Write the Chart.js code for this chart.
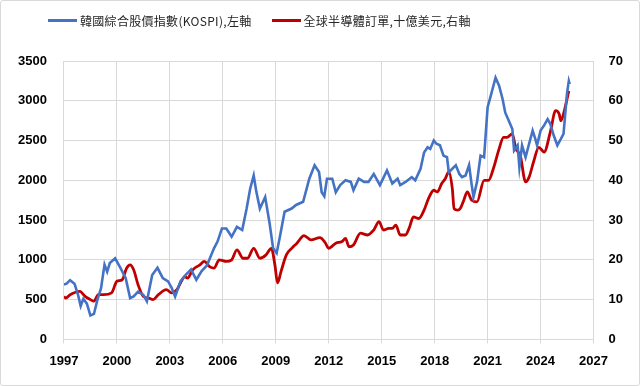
<!DOCTYPE html>
<html>
<head>
<meta charset="utf-8">
<script src="https://cdn.jsdelivr.net/npm/chart.js@4/dist/chart.umd.min.js"></script>
<style>
  html, body { margin: 0; padding: 0; background: #fff; }
  #wrap { position: relative; width: 640px; height: 386px; box-sizing: border-box; border: 1px solid #d9d9d9; border-radius: 3px; overflow: hidden; }
  #c { position: absolute; left: 0; top: 0; }
  #legend { position: absolute; top: 11px; left: 47px; display: flex; align-items: center; font-family: "Noto Sans CJK TC", "Noto Sans", sans-serif; font-size: 12px; letter-spacing: 0.3px; color: #262626; white-space: nowrap; }
  .item { display: flex; align-items: center; margin-right: 20px; }
  .swatch { width: 29px; height: 3px; margin-right: 3px; }
</style>
</head>
<body>
<div id="wrap">
  <canvas id="c" width="640" height="386"></canvas>
  <div id="legend"></div>
</div>
<script>
// KOSPI (left axis)
const kospiDates = [1997.0,1997.15,1997.35,1997.6,1997.8,1997.95,1998.1,1998.3,1998.5,1998.7,1998.9,1999.1,1999.3,1999.45,1999.6,1999.9,
2000.2,2000.5,2000.75,2000.95,2001.2,2001.5,2001.7,2002.0,2002.3,2002.6,2002.9,2003.1,2003.3,2003.6,2003.9,2004.2,2004.5,2004.8,
2005.1,2005.5,2005.7,2005.95,2006.2,2006.5,2006.8,2007.1,2007.35,2007.55,2007.75,2007.9,2008.1,2008.4,2008.65,2008.85,
2009.05,2009.25,2009.5,2009.9,2010.15,2010.55,2010.9,2011.2,2011.45,2011.6,2011.75,2011.9,2012.2,2012.4,2012.65,2012.95,
2013.25,2013.4,2013.7,2014.0,2014.25,2014.55,2014.9,2015.3,2015.6,2015.9,2016.05,2016.35,2016.7,2016.9,2017.2,2017.4,2017.6,
2017.75,2017.95,2018.1,2018.3,2018.5,2018.7,2018.8,2019.0,2019.2,2019.4,2019.55,2019.75,2019.95,2020.1,2020.2,2020.4,2020.6,
2020.8,2021.0,2021.15,2021.45,2021.65,2021.85,2022.0,2022.2,2022.4,2022.5,2022.7,2022.8,2022.95,2023.15,2023.35,2023.55,
2023.7,2023.8,2024.0,2024.2,2024.4,2024.55,2024.75,2024.95,2025.15,2025.3,2025.5,2025.6,2025.65];
const kospiValues = [690,700,745,700,560,420,510,450,300,320,500,640,940,850,960,1020,
900,770,520,540,600,560,480,810,900,770,730,650,540,730,810,880,750,860,
930,1145,1230,1395,1395,1290,1415,1375,1645,1895,2060,1855,1645,1790,1460,1145,
1085,1310,1605,1645,1690,1730,2020,2190,2105,1850,1800,2020,2020,1850,1940,2000,
1980,1875,2020,1980,1980,2080,1940,2125,1960,2020,1940,1980,2040,2000,2145,2350,2415,
2395,2500,2460,2440,2310,2290,2100,2145,2190,2080,2040,2060,2190,1940,1790,1980,2310,
2290,2920,3040,3290,3190,3020,2850,2750,2645,2375,2440,2165,2440,2290,2460,2625,
2520,2440,2625,2690,2770,2710,2560,2440,2520,2585,3100,3250,3210];

// Global semiconductor orders, USD bn (right axis)
const semiDates = [1997.0,1997.1,1997.35,1997.9,1998.2,1998.5,1998.7,1998.95,1999.25,1999.7,2000.0,2000.3,2000.55,2000.75,2000.95,
2001.2,2001.5,2001.8,2002.05,2002.35,2002.8,2003.1,2003.4,2003.65,2003.85,2004.0,2004.3,2004.7,2004.95,2005.25,2005.5,2005.8,
2006.2,2006.5,2006.8,2007.15,2007.4,2007.75,2008.1,2008.45,2008.75,2008.95,2009.1,2009.3,2009.6,2009.9,2010.2,2010.6,2011.0,
2011.5,2011.8,2012.0,2012.4,2012.75,2012.95,2013.15,2013.4,2013.8,2014.2,2014.55,2014.85,2015.1,2015.4,2015.6,2015.8,2016.05,
2016.35,2016.55,2016.8,2017.1,2017.4,2017.65,2017.95,2018.15,2018.4,2018.6,2018.8,2019.0,2019.1,2019.3,2019.45,2019.65,2019.85,
2020.1,2020.4,2020.8,2021.05,2021.35,2021.65,2021.9,2022.1,2022.4,2022.6,2022.85,2023.15,2023.35,2023.6,2023.9,2024.2,2024.55,
2024.85,2025.05,2025.15,2025.3,2025.6];
const semiValues = [10.8,10.4,11.25,12.1,10.8,10.0,9.6,11.25,11.25,11.7,14.6,15,17.9,18.75,17.5,
13.75,10.8,10.4,10,11.25,12.5,11.7,12.5,14.6,15.8,15.4,17.5,18.75,19.6,18.3,17.9,20,
19.6,20,22.5,20.4,20.4,22.9,20.4,21.25,22.9,18.75,14.2,17.1,21.25,22.9,24.2,26.1,25,
25.6,24.3,22.9,24.2,24.6,25.4,23.3,23.75,26.7,26.25,27.5,29.6,27.5,27.9,27.9,28.75,26.25,
26.25,27.9,30.8,30.4,32.5,35.4,37.5,37.1,39.2,40.4,42.1,37.9,32.9,32.5,32.9,35,37.1,
35,34.6,40,40,43.3,47.9,50.8,50.8,51.7,47.9,46.25,39.6,40.8,44.6,48.3,47.1,52.1,
57.5,56.7,55,56.7,62.5];

const seriesNames = ["韓國綜合股價指數(KOSPI),左軸", "全球半導體訂單,十億美元,右軸"];
const seriesColors = ["#4472C4", "#C00000"];

const xMin = 1997, xMax = 2027, xStep = 3;
const leftMax = 3500, leftStep = 500;
const rightMax = 70, rightStep = 10;

// HTML legend (real text)
const lg = document.getElementById('legend');
seriesNames.forEach((n, i) => {
  const it = document.createElement('div'); it.className = 'item';
  const sw = document.createElement('div'); sw.className = 'swatch'; sw.style.background = seriesColors[i];
  const tx = document.createElement('span'); tx.textContent = n;
  it.appendChild(sw); it.appendChild(tx); lg.appendChild(it);
});

const tickFont = { family: "'Liberation Sans', Arial, sans-serif", size: 13, weight: 'bold' };
const grid = '#d9d9d9';

new Chart(document.getElementById('c'), {
  type: 'line',
  data: {
    datasets: [
      {
        label: seriesNames[0],
        data: kospiDates.map((d, i) => ({ x: d, y: kospiValues[i] })),
        borderColor: seriesColors[0], backgroundColor: seriesColors[0],
        borderWidth: 2.6, pointRadius: 0, tension: 0, yAxisID: 'y'
      },
      {
        label: seriesNames[1],
        data: semiDates.map((d, i) => ({ x: d, y: semiValues[i] })),
        borderColor: seriesColors[1], backgroundColor: seriesColors[1],
        borderWidth: 2.8, pointRadius: 0, cubicInterpolationMode: 'monotone', yAxisID: 'y1'
      }
    ]
  },
  options: {
    responsive: false,
    animation: false,
    layout: { padding: { left: 0, right: 3, top: 60, bottom: 8 } },
    plugins: { legend: { display: false }, tooltip: { enabled: false } },
    scales: {
      x: {
        type: 'linear', min: xMin, max: xMax,
        ticks: { stepSize: xStep, font: tickFont, color: '#000', padding: 10, maxRotation: 0, callback: v => String(v) },
        grid: { color: grid, lineWidth: 1, tickLength: 4, tickColor: grid },
        border: { color: grid }
      },
      y: {
        position: 'left', min: 0, max: leftMax,
        ticks: { stepSize: leftStep, font: tickFont, color: '#000', padding: 17, callback: v => String(v) },
        grid: { color: grid, lineWidth: 1, drawTicks: false },
        border: { display: false }
      },
      y1: {
        position: 'right', min: 0, max: rightMax,
        ticks: { stepSize: rightStep, font: tickFont, color: '#000', padding: 15, callback: v => String(v) },
        grid: { drawOnChartArea: false, drawTicks: false },
        border: { display: false }
      }
    }
  }
});
</script>
</body>
</html>
